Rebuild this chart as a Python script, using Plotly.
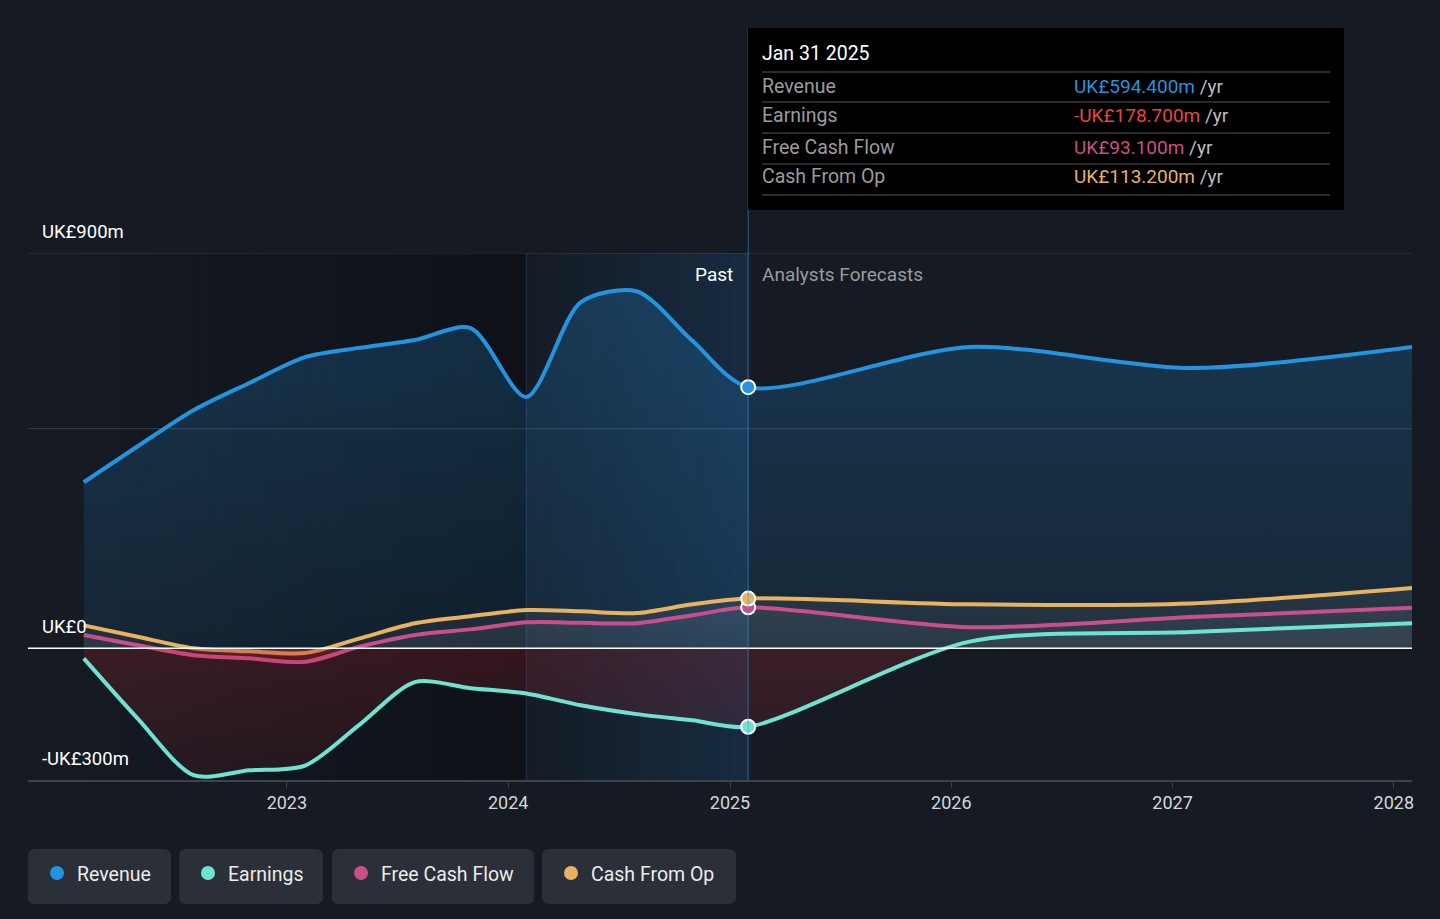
import plotly.graph_objects as go
import pandas as pd

# quarterly trailing figures (UK£m), then analyst forecasts
past_dates = ["2022-01-31", "2022-04-30", "2022-07-31", "2022-10-31",
              "2023-01-31", "2023-04-30", "2023-07-31", "2023-10-31",
              "2024-01-31", "2024-04-30", "2024-07-31", "2024-10-31",
              "2025-01-31"]
fc_dates = ["2026-01-31", "2027-01-31", "2028-01-31"]

revenue_past = [378, 460, 542, 604, 663, 684, 702, 729, 572, 788, 813, 700, 594.4]
earnings_past = [-23, -160, -289, -278, -267, -175, -77, -91, -103, -130, -150, -164, -178.7]
fcf_past = [30, 7, -16, -23, -31, 3, 30, 43, 59, 58, 57, 75, 93.1]
cfo_past = [52, 26, 0, -7, -11, 22, 57, 73, 87, 84, 80, 100, 113.2]

revenue_fc = [686, 638, 686]
earnings_fc = [15, 37, 57]
fcf_fc = [48, 71, 92]
cfo_fc = [100, 102, 137]

year_ticks = ["2023-01-01", "2024-01-01", "2025-01-01", "2026-01-01", "2027-01-01", "2028-01-01"]
year_labels = ["2023", "2024", "2025", "2026", "2027", "2028"]
y_labels = {900: "UK£900m", 0: "UK£0", -300: "-UK£300m"}

BG = "#151a23"
W, H = 1440, 919
L, R, T, B = 28, 28, 253, 139
PW, PH = W - L - R, H - T - B


def px_x(px):
    return (px - L) / PW


def px_y(py):
    return (H - B - py) / PH


dates = past_dates + fc_dates
now = past_dates[-1]
series = [
    ("Revenue", revenue_past + revenue_fc, "#2394df"),
    ("Cash From Op", cfo_past + cfo_fc, "#e9b25f"),
    ("Free Cash Flow", fcf_past + fcf_fc, "#c94f8a"),
    ("Earnings", earnings_past + earnings_fc, "#6fe3d2"),
]

fig = go.Figure()

for name, vals, color in series:
    if name == "Revenue":
        grad = dict(type="vertical", start=0, stop=850,
                    colorscale=[[0, "rgba(35,148,223,0.10)"], [1, "rgba(35,148,223,0.24)"]])
    else:
        grad = dict(type="vertical", start=-300, stop=150,
                    colorscale=[[0, "rgba(190,40,50,0.10)"], [0.665, "rgba(190,40,50,0.22)"],
                                [0.668, "rgba(160,165,175,0.07)"], [1, "rgba(160,165,175,0.12)"]])
    fig.add_trace(go.Scatter(x=dates, y=vals, mode="lines", name=name,
                             line=dict(color=color, width=4, shape="spline", smoothing=0.8),
                             fill="tozeroy", fillgradient=grad, hoverinfo="skip"))

# dots at the latest reported point
i_now = len(past_dates) - 1
for name, vals, color in [series[3], series[2], series[1], series[0]]:
    fig.add_trace(go.Scatter(x=[dates[i_now]], y=[vals[i_now]], mode="markers",
                             marker=dict(size=14, color=color, line=dict(color="white", width=2)),
                             hoverinfo="skip", showlegend=False))

shapes = []
# darkening of the older past, highlight of the last year
n = 24
d0, d1, d2 = past_dates[0], "2024-01-31", now
t0, t1, t2 = pd.Timestamp(d0), pd.Timestamp(d1), pd.Timestamp(d2)
for k in range(n):
    a = t0 + (t1 - t0) * k / n
    b = t0 + (t1 - t0) * (k + 1) / n
    shapes.append(dict(type="rect", xref="x", yref="paper", x0=a, x1=b, y0=0, y1=1,
                       fillcolor="rgba(0,0,0,%.3f)" % (0.32 * (k + 1) / n), line_width=0, layer="below"))
for k in range(n):
    a = t1 + (t2 - t1) * k / n
    b = t1 + (t2 - t1) * (k + 1) / n
    shapes.append(dict(type="rect", xref="x", yref="paper", x0=a, x1=b, y0=0, y1=1,
                       fillcolor="rgba(35,120,200,%.3f)" % (0.02 + 0.16 * (k + 1) / n),
                       line_width=0, layer="below"))
shapes.append(dict(type="line", xref="x", yref="paper", x0=d1, x1=d1, y0=0, y1=1,
                   line=dict(color="rgba(60,110,160,0.35)", width=1), layer="below"))

# grid
for v in [900, 500]:
    shapes.append(dict(type="line", xref="paper", yref="y", x0=0, x1=1, y0=v, y1=v,
                       line=dict(color="rgba(255,255,255,0.16)", width=1), layer="below"))
shapes.append(dict(type="line", xref="paper", yref="y", x0=0, x1=1, y0=0, y1=0,
                   line=dict(color="white", width=1.5)))
shapes.append(dict(type="line", xref="x", yref="paper", x0=now, x1=now, y0=0, y1=px_y(28),
                   line=dict(color="rgba(70,140,210,0.6)", width=1)))

# tooltip box
shapes.append(dict(type="rect", xref="paper", yref="paper", x0=px_x(748), x1=px_x(1344),
                   y0=px_y(210), y1=px_y(28), fillcolor="#000000", line_width=0))
for sy in [72, 102, 133, 164, 195]:
    shapes.append(dict(type="line", xref="paper", yref="paper", x0=px_x(762), x1=px_x(1330),
                       y0=px_y(sy), y1=px_y(sy), line=dict(color="#3a3a3a", width=1.5)))

annotations = []
annotations.append(dict(xref="paper", yref="paper", x=px_x(760), y=px_y(54), text="Jan 31 2025",
                        showarrow=False, xanchor="left", yanchor="middle",
                        font=dict(size=19.5, color="white", family="Roboto")))
tip_rows = [
    ("Revenue", "UK£594.400m", "#2394df", 86),
    ("Earnings", "-UK£178.700m", "#e64545", 116),
    ("Free Cash Flow", "UK£93.100m", "#c94f8a", 147),
    ("Cash From Op", "UK£113.200m", "#e9b25f", 177),
]
for lab, val, col, ry in tip_rows:
    annotations.append(dict(xref="paper", yref="paper", x=px_x(760), y=px_y(ry), text=lab,
                            showarrow=False, xanchor="left", yanchor="middle",
                            font=dict(size=19.5, color="#9b9b9b", family="Roboto")))
    annotations.append(dict(xref="paper", yref="paper", x=px_x(1072), y=px_y(ry),
                            text="<span style='color:%s'>%s</span> /yr" % (col, val),
                            showarrow=False, xanchor="left", yanchor="middle",
                            font=dict(size=19, color="#bdbdbd", family="Roboto")))

for v, txt in y_labels.items():
    annotations.append(dict(xref="paper", yref="y", x=px_x(40), y=v, yshift=21, text=txt,
                            showarrow=False, xanchor="left", yanchor="middle",
                            font=dict(size=18.5, color="white", family="Roboto")))

annotations.append(dict(xref="x", yref="paper", x=now, y=px_y(274), xshift=-13, text="Past",
                        showarrow=False, xanchor="right", yanchor="middle",
                        font=dict(size=19, color="white", family="Roboto")))
annotations.append(dict(xref="x", yref="paper", x=now, y=px_y(274), xshift=12,
                        text="Analysts Forecasts", showarrow=False, xanchor="left", yanchor="middle",
                        font=dict(size=19, color="#9b9b9b", family="Roboto")))


# legend chips
def rounded(x0, y0, x1, y1, r=7):
    pts = [
        "M %f,%f" % (px_x(x0 + r), px_y(y0)),
        "L %f,%f" % (px_x(x1 - r), px_y(y0)),
        "Q %f,%f %f,%f" % (px_x(x1), px_y(y0), px_x(x1), px_y(y0 + r)),
        "L %f,%f" % (px_x(x1), px_y(y1 - r)),
        "Q %f,%f %f,%f" % (px_x(x1), px_y(y1), px_x(x1 - r), px_y(y1)),
        "L %f,%f" % (px_x(x0 + r), px_y(y1)),
        "Q %f,%f %f,%f" % (px_x(x0), px_y(y1), px_x(x0), px_y(y1 - r)),
        "L %f,%f" % (px_x(x0), px_y(y0 + r)),
        "Q %f,%f %f,%f" % (px_x(x0), px_y(y0), px_x(x0 + r), px_y(y0)),
        "Z",
    ]
    return " ".join(pts)


chips = [("Revenue", "#2394df", 28, 171), ("Earnings", "#6fe3d2", 179, 323),
         ("Free Cash Flow", "#c94f8a", 332, 534), ("Cash From Op", "#e9b25f", 542, 736)]
for lab, col, cx0, cx1 in chips:
    shapes.append(dict(type="path", xref="paper", yref="paper", path=rounded(cx0, 849, cx1, 904),
                       fillcolor="#2a2f38", line_width=0))
    mx = cx0 + 29
    shapes.append(dict(type="circle", xref="paper", yref="paper", x0=px_x(mx - 7), x1=px_x(mx + 7),
                       y0=px_y(880), y1=px_y(866), fillcolor=col, line_width=0))
    annotations.append(dict(xref="paper", yref="paper", x=px_x(cx0 + 47), y=px_y(874), text=lab,
                            showarrow=False, xanchor="left", yanchor="middle",
                            font=dict(size=19.5, color="#ececec", family="Roboto")))

fig.update_layout(
    width=W, height=H,
    margin=dict(l=L, r=R, t=T, b=B),
    paper_bgcolor=BG, plot_bgcolor=BG,
    showlegend=False,
    shapes=shapes,
    annotations=annotations,
    font=dict(family="Roboto", color="white"),
    xaxis=dict(range=["2021-10-31", "2028-01-31"], tickvals=year_ticks, ticktext=year_labels,
               showgrid=False, zeroline=False, showline=True, linecolor="#3d434c", linewidth=1.5,
               ticks="outside", ticklen=6, tickcolor="#3d434c",
               tickfont=dict(size=18, color="#d6d6d6", family="Roboto")),
    yaxis=dict(range=[-300, 900], showgrid=False, zeroline=False, showticklabels=False),
)

fig.write_html("out.html", config={"displayModeBar": False},
               post_script="document.body.style.margin='0';")
